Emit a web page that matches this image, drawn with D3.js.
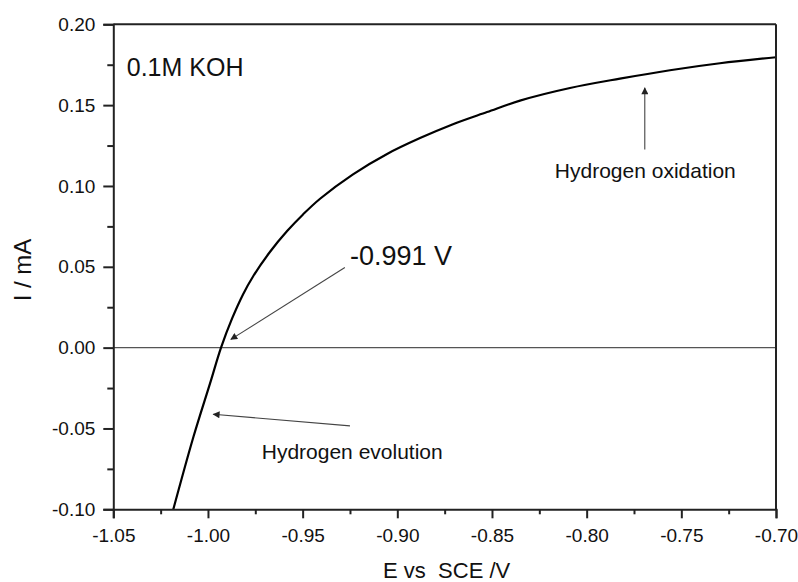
<!DOCTYPE html>
<html>
<head>
<meta charset="utf-8">
<script src="https://cdn.jsdelivr.net/npm/d3@7/dist/d3.min.js"></script>
<style>
  html, body { margin: 0; padding: 0; background: #fff; }
  svg { display: block; }
  text { font-family: Arial, "Liberation Sans", sans-serif; fill: #111; white-space: pre; }
</style>
</head>
<body>
<script>
// ---- data ----
const potentialE = [-1.0183, -1.0077, -0.9989, -0.9931, -0.9873, -0.9815, -0.9762, -0.9672, -0.9582, -0.9498, -0.9408, -0.9234, -0.9054, -0.8880, -0.8706, -0.8526, -0.8352, -0.8088, -0.7824, -0.7560, -0.7296, -0.70];
const currentI   = [-0.100, -0.0553, -0.0221, 0.000, 0.0179, 0.0329, 0.0440, 0.0593, 0.0721, 0.0824, 0.0921, 0.1072, 0.1198, 0.1296, 0.1382, 0.1457, 0.1528, 0.1606, 0.1664, 0.1716, 0.1759, 0.1796];

const xTickValues = [-1.05, -1.00, -0.95, -0.90, -0.85, -0.80, -0.75, -0.70];
const xTickLabels = ["-1.05", "-1.00", "-0.95", "-0.90", "-0.85", "-0.80", "-0.75", "-0.70"];
const xMinorTicks = [-1.025, -0.975, -0.925, -0.875, -0.825, -0.775, -0.725];
const yTickValues = [0.20, 0.15, 0.10, 0.05, 0.00, -0.05, -0.10];
const yTickLabels = ["0.20", "0.15", "0.10", "0.05", "0.00", "-0.05", "-0.10"];
const yMinorTicks = [0.175, 0.125, 0.075, 0.025, -0.025, -0.075];

const annotationTexts = ["0.1M KOH", "-0.991 V", "Hydrogen evolution", "Hydrogen oxidation"];
const annotationE     = [-1.0429, -0.925, -0.9716, -0.8168];
const annotationI     = [0.168, 0.0514, -0.069, 0.1051];
const annotationSizes = [25, 27, 21, 21];

const arrowFromE = [-0.9277, -0.925, -0.7693];
const arrowFromI = [0.0496, -0.0484, 0.1225];
const arrowToE   = [-0.9879, -0.9972, -0.7693];
const arrowToI   = [0.0051, -0.0412, 0.1607];

const xTitle = "E vs  SCE /V";
const yTitle = "I / mA";

// ---- layout ----
const W = 798, H = 582;
const margin = { left: 113.3, right: 22, top: 24.3, bottom: 72.7 };
const iw = W - margin.left - margin.right;
const ih = H - margin.top - margin.bottom;

const svg = d3.select("body").append("svg").attr("width", W).attr("height", H);
const g = svg.append("g").attr("transform", `translate(${margin.left},${margin.top})`);

const x = d3.scaleLinear().domain([-1.05, -0.70]).range([0, iw]);
const y = d3.scaleLinear().domain([-0.10, 0.20]).range([ih, 0]);

// zero line
g.append("line")
  .attr("x1", x(-1.05)).attr("x2", x(-0.70))
  .attr("y1", y(0)).attr("y2", y(0))
  .attr("stroke", "#555").attr("stroke-width", 1.2);

// curve
const pts = potentialE.map((e, i) => [e, currentI[i]]);
g.append("path")
  .datum(pts)
  .attr("fill", "none")
  .attr("stroke", "#000")
  .attr("stroke-width", 2.2)
  .attr("d", d3.line().x(d => x(d[0])).y(d => y(d[1])).curve(d3.curveCatmullRom.alpha(0.5)));

// frame top/right
g.append("line").attr("x1", 0).attr("x2", iw).attr("y1", 0).attr("y2", 0)
  .attr("stroke", "#222").attr("stroke-width", 2);
g.append("line").attr("x1", iw).attr("x2", iw).attr("y1", 0).attr("y2", ih)
  .attr("stroke", "#222").attr("stroke-width", 2);

// axes
const tickFont = "19px";
const xAxis = g.append("g").attr("transform", `translate(0,${ih})`)
  .call(d3.axisBottom(x).tickValues(xTickValues).tickSize(9).tickPadding(10)
    .tickFormat((d, i) => xTickLabels[i]));
xAxis.select(".domain").attr("stroke", "#222").attr("stroke-width", 2);
xAxis.selectAll(".tick line").attr("stroke", "#222").attr("stroke-width", 2);
xAxis.selectAll(".tick text").attr("font-size", tickFont)
  .attr("font-family", "Arial, 'Liberation Sans', sans-serif").attr("fill", "#111");

const xMinor = g.append("g").attr("transform", `translate(0,${ih})`)
  .call(d3.axisBottom(x).tickValues(xMinorTicks).tickSize(5).tickFormat(""));
xMinor.select(".domain").remove();
xMinor.selectAll(".tick line").attr("stroke", "#222").attr("stroke-width", 2);

const yAxis = g.append("g")
  .call(d3.axisLeft(y).tickValues(yTickValues).tickSize(10).tickPadding(8)
    .tickFormat((d, i) => yTickLabels[i]));
yAxis.select(".domain").attr("stroke", "#222").attr("stroke-width", 2);
yAxis.selectAll(".tick line").attr("stroke", "#222").attr("stroke-width", 2);
yAxis.selectAll(".tick text").attr("font-size", tickFont)
  .attr("font-family", "Arial, 'Liberation Sans', sans-serif").attr("fill", "#111");

const yMinor = g.append("g")
  .call(d3.axisLeft(y).tickValues(yMinorTicks).tickSize(6).tickFormat(""));
yMinor.select(".domain").remove();
yMinor.selectAll(".tick line").attr("stroke", "#222").attr("stroke-width", 2);

// axis titles
svg.append("text")
  .attr("x", margin.left + iw / 2 + 2).attr("y", 578)
  .attr("text-anchor", "middle").attr("font-size", "22px")
  .attr("xml:space", "preserve")
  .text(xTitle);
svg.append("text")
  .attr("transform", `translate(31,270) rotate(-90)`)
  .attr("text-anchor", "middle").attr("font-size", "24px")
  .text(yTitle);

// annotations
annotationTexts.forEach((t, i) => {
  g.append("text")
    .attr("x", x(annotationE[i])).attr("y", y(annotationI[i]))
    .attr("font-size", annotationSizes[i] + "px")
    .text(t);
});

// arrows
const defs = svg.append("defs");
defs.append("marker")
  .attr("id", "ah").attr("viewBox", "0 0 10 10")
  .attr("refX", 9).attr("refY", 5)
  .attr("markerWidth", 9).attr("markerHeight", 7)
  .attr("markerUnits", "userSpaceOnUse")
  .attr("orient", "auto")
  .append("path").attr("d", "M0,0 L10,5 L0,10 Z").attr("fill", "#222");

arrowFromE.forEach((e, i) => {
  g.append("line")
    .attr("x1", x(e)).attr("y1", y(arrowFromI[i]))
    .attr("x2", x(arrowToE[i])).attr("y2", y(arrowToI[i]))
    .attr("stroke", "#444").attr("stroke-width", 1.1)
    .attr("marker-end", "url(#ah)");
});
</script>
</body>
</html>
